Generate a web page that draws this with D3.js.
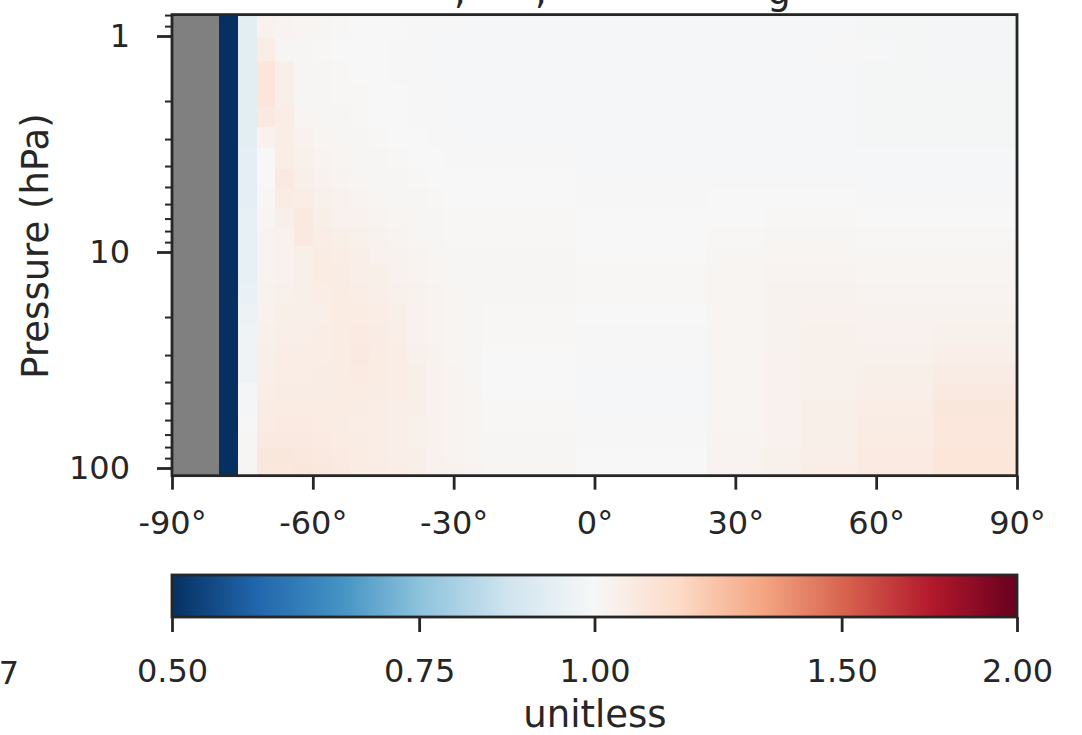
<!DOCTYPE html>
<html><head><meta charset="utf-8">
<script src="https://cdn.jsdelivr.net/npm/d3@7"></script>
<style>
body{margin:0;background:#fff}
text{font-family:"DejaVu Sans",sans-serif;fill:#262626}
</style></head>
<body><svg id="c" width="1082" height="735"></svg>
<script>
// ---------------- data ----------------
const latitudes = [-90,-86,-82,-78,-74,-70,-66,-62,-58,-54,-50,-46,-42,-38,-34,-30,-26,-22,-18,-14,-10,-6,-2,2,6,10,14,18,22,26,30,34,38,42,46,50,54,58,62,66,70,74,78,82,86,90];
const pressureLevels = [0.9,1.15,1.48,1.89,2.37,2.95,3.7,4.6,5.65,6.95,8.5,10.3,12.5,15.4,19.4,24.3,30.1,36.9,43.9,52.2,62.7,74.5,87.5,101];
const xTicks = [-90,-60,-30,0,30,60,90];
const yTicks = [1,10,100];
const cbarTicks = [0.5,0.75,1.0,1.5,2.0];
const cbarTickLabels = ["0.50","0.75","1.00","1.50","2.00"];
const rdbuColors = ["#053061","#2166ac","#4393c3","#92c5de","#d1e5f0","#f7f7f7","#fddbc7","#f4a582","#d6604d","#b2182b","#67001f"];
const N = null;
// ratio (unitless), one row per pressure level (top -> bottom), one value per latitude
const ratio = [
[N,N,N,0.45,0.93, 1.03,1.02,1.015,1.01,1.005,1.0,1.0,1.0,0.995,0.995,0.995,0.993, 0.993,0.993,0.993,0.993,0.993, 0.993,0.993,0.993,0.993,0.993,0.993,0.993, 0.993,0.993,0.993, 0.993,0.993, 0.993,0.993,0.993, 0.99,0.99,0.99,0.99, 0.988,0.988,0.988,0.988,0.99],
[N,N,N,0.45,0.93, 1.05,1.01,1.01,1.005,1.0,1.0,1.0,0.995,0.995,0.993,0.993,0.993, 0.993,0.993,0.993,0.993,0.993, 0.993,0.993,0.993,0.993,0.993,0.993,0.993, 0.993,0.993,0.993, 0.993,0.993, 0.993,0.996,0.996, 0.995,0.993,0.99,0.99, 0.988,0.988,0.988,0.988,0.99],
[N,N,N,0.45,0.93, 1.09,1.04,1.01,1.01,1.005,1.0,1.0,0.995,0.995,0.993,0.993,0.993, 0.993,0.993,0.993,0.993,0.993, 0.993,0.993,0.993,0.993,0.993,0.993,0.993, 0.993,0.993,0.993, 0.993,0.993, 0.993,0.993,0.993, 0.99,0.99,0.99,0.99, 0.988,0.988,0.988,0.988,0.99],
[N,N,N,0.45,0.93, 1.09,1.04,1.01,1.01,1.005,1.005,1.0,1.0,0.995,0.995,0.993,0.993, 0.993,0.993,0.993,0.993,0.993, 0.993,0.993,0.993,0.993,0.993,0.993,0.993, 0.993,0.993,0.993, 0.993,0.993, 0.993,0.993,0.993, 0.99,0.99,0.99,0.99, 0.99,0.99,0.99,0.99,0.99],
[N,N,N,0.45,0.93, 1.07,1.05,1.015,1.01,1.01,1.005,1.0,1.0,0.995,0.995,0.993,0.993, 0.993,0.993,0.993,0.993,0.993, 0.993,0.993,0.993,0.993,0.993,0.993,0.993, 0.993,0.993,0.993, 0.993,0.993, 0.993,0.993,0.993, 0.99,0.99,0.99,0.99, 0.99,0.99,0.99,0.99,0.99],
[N,N,N,0.45,0.93, 1.03,1.05,1.03,1.015,1.01,1.01,1.005,1.0,1.0,0.995,0.995,0.993, 0.993,0.993,0.993,0.993,0.993, 0.993,0.993,0.993,0.993,0.993,0.993,0.993, 0.993,0.993,0.993, 0.993,0.993, 0.993,0.993,0.993, 0.99,0.99,0.99,0.99, 0.99,0.99,0.99,0.99,0.99],
[N,N,N,0.45,0.935, 1.0,1.05,1.035,1.02,1.015,1.01,1.01,1.005,1.0,1.0,0.995,0.995, 0.995,0.995,0.995,0.995,0.995, 0.993,0.993,0.993,0.993,0.993,0.993,0.993, 0.993,0.993,0.993, 0.993,0.993, 0.993,0.993,0.993, 0.993,0.993,0.993,0.993, 0.993,0.993,0.993,0.993,0.993],
[N,N,N,0.45,0.935, 1.0,1.07,1.04,1.03,1.02,1.015,1.01,1.01,1.005,1.0,1.0,1.0, 1.0,1.0,1.0,1.0,1.0, 0.995,0.995,0.995,0.995,0.995,0.995,0.995, 0.995,0.995,0.995, 0.995,0.995, 0.995,0.995,0.995, 0.993,0.993,0.993,0.993, 0.993,0.993,0.993,0.993,0.993],
[N,N,N,0.45,0.935, 1.005,1.06,1.05,1.035,1.03,1.02,1.015,1.01,1.01,1.005,1.0,1.0, 1.0,1.0,1.0,1.0,1.0, 0.995,0.995,0.995,0.995,0.995,0.995,0.995, 1.0,1.0,1.0, 1.0,1.0, 1.0,1.0,1.0, 0.995,0.995,0.995,0.995, 0.995,0.995,0.995,0.995,0.995],
[N,N,N,0.45,0.945, 1.015,1.04,1.07,1.04,1.03,1.03,1.02,1.015,1.01,1.01,1.005,1.005, 1.005,1.005,1.005,1.005,1.005, 1.0,1.0,1.0,1.0,1.0,1.0,1.0, 1.0,1.0,1.0, 1.005,1.005, 1.005,1.005,1.005, 1.0,1.0,1.0,1.0, 1.0,1.0,1.0,1.0,1.0],
[N,N,N,0.45,0.945, 1.02,1.03,1.07,1.05,1.04,1.035,1.025,1.02,1.015,1.01,1.005,1.005, 1.005,1.005,1.005,1.005,1.005, 1.0,1.0,1.0,1.0,1.0,1.0,1.0, 1.005,1.005,1.005, 1.01,1.01, 1.01,1.01,1.01, 1.005,1.005,1.005,1.005, 1.005,1.005,1.005,1.005,1.005],
[N,N,N,0.45,0.945, 1.02,1.03,1.04,1.06,1.05,1.04,1.03,1.025,1.02,1.015,1.01,1.01, 1.01,1.01,1.01,1.01,1.01, 1.0,1.0,1.0,1.0,1.0,1.0,1.0, 1.01,1.01,1.01, 1.015,1.015, 1.015,1.015,1.015, 1.01,1.01,1.01,1.01, 1.01,1.01,1.01,1.01,1.01],
[N,N,N,0.45,0.945, 1.02,1.03,1.04,1.06,1.055,1.045,1.04,1.03,1.02,1.015,1.01,1.01, 1.01,1.01,1.01,1.01,1.01, 1.005,1.005,1.005,1.005,1.005,1.005,1.005, 1.015,1.015,1.015, 1.02,1.02, 1.02,1.02,1.02, 1.015,1.015,1.015,1.015, 1.015,1.015,1.015,1.015,1.015],
[N,N,N,0.45,0.955, 1.025,1.035,1.04,1.05,1.06,1.05,1.045,1.035,1.025,1.02,1.015,1.01, 1.01,1.01,1.01,1.01,1.01, 1.005,1.005,1.005,1.005,1.005,1.005,1.005, 1.015,1.015,1.015, 1.025,1.025, 1.025,1.025,1.025, 1.02,1.02,1.02,1.02, 1.02,1.02,1.02,1.02,1.02],
[N,N,N,0.45,0.965, 1.03,1.04,1.04,1.045,1.06,1.06,1.05,1.04,1.03,1.02,1.015,1.01, 1.005,1.005,1.005,1.005,1.005, 1.0,1.0,1.0,1.0,1.0,1.0,1.0, 1.015,1.015,1.015, 1.025,1.025, 1.03,1.03,1.03, 1.025,1.025,1.025,1.025, 1.025,1.025,1.025,1.025,1.025],
[N,N,N,0.45,0.97, 1.035,1.045,1.045,1.05,1.06,1.065,1.055,1.045,1.03,1.02,1.015,1.01, 1.005,1.005,1.005,1.005,1.005, 0.995,0.995,0.995,0.995,0.995,0.995,0.995, 1.015,1.015,1.015, 1.025,1.025, 1.035,1.035,1.035, 1.03,1.03,1.03,1.03, 1.035,1.035,1.035,1.035,1.035],
[N,N,N,0.45,0.97, 1.04,1.05,1.05,1.05,1.06,1.07,1.06,1.05,1.035,1.025,1.015,1.01, 1.0,1.0,1.0,1.0,1.0, 0.995,0.995,0.995,0.995,0.995,0.995,0.995, 1.015,1.015,1.015, 1.03,1.03, 1.035,1.035,1.035, 1.035,1.035,1.035,1.035, 1.045,1.045,1.045,1.045,1.045],
[N,N,N,0.45,0.97, 1.045,1.05,1.05,1.055,1.06,1.065,1.06,1.05,1.04,1.03,1.02,1.01, 1.0,1.0,1.0,1.0,1.0, 0.993,0.993,0.993,0.993,0.993,0.993,0.993, 1.015,1.015,1.015, 1.03,1.03, 1.035,1.035,1.035, 1.04,1.04,1.04,1.04, 1.055,1.055,1.055,1.055,1.055],
[N,N,N,0.45,0.985, 1.05,1.055,1.055,1.055,1.06,1.06,1.055,1.05,1.04,1.03,1.02,1.015, 1.0,1.0,1.0,1.0,1.0, 0.993,0.993,0.993,0.993,0.993,0.993,0.993, 1.015,1.015,1.015, 1.03,1.03, 1.035,1.035,1.035, 1.045,1.045,1.045,1.045, 1.07,1.07,1.07,1.07,1.07],
[N,N,N,0.45,0.985, 1.055,1.06,1.06,1.06,1.06,1.055,1.05,1.045,1.04,1.03,1.02,1.015, 1.005,1.005,1.005,1.005,1.005, 0.993,0.993,0.993,0.993,0.993,0.993,0.993, 1.015,1.015,1.015, 1.03,1.03, 1.04,1.04,1.04, 1.05,1.05,1.05,1.05, 1.08,1.08,1.08,1.08,1.08],
[N,N,N,0.45,0.995, 1.06,1.065,1.065,1.06,1.055,1.05,1.05,1.045,1.035,1.03,1.02,1.015, 1.005,1.005,1.005,1.005,1.005, 0.995,0.995,0.995,0.995,0.995,0.995,0.995, 1.015,1.015,1.015, 1.03,1.03, 1.04,1.04,1.04, 1.055,1.055,1.055,1.055, 1.085,1.085,1.085,1.085,1.085],
[N,N,N,0.45,1.01, 1.07,1.07,1.07,1.065,1.06,1.055,1.05,1.045,1.035,1.03,1.02,1.015, 1.01,1.01,1.01,1.01,1.01, 0.995,0.995,0.995,0.995,0.995,0.995,0.995, 1.02,1.02,1.02, 1.03,1.03, 1.04,1.04,1.04, 1.06,1.06,1.06,1.06, 1.085,1.085,1.085,1.085,1.085],
[N,N,N,0.45,1.01, 1.08,1.08,1.075,1.07,1.065,1.06,1.05,1.045,1.04,1.03,1.02,1.015, 1.01,1.01,1.01,1.01,1.01, 1.0,1.0,1.0,1.0,1.0,1.0,1.0, 1.02,1.02,1.02, 1.035,1.035, 1.045,1.045,1.045, 1.065,1.065,1.065,1.065, 1.09,1.09,1.09,1.09,1.09],
[N,N,N,0.45,1.01, 1.085,1.085,1.08,1.075,1.07,1.06,1.055,1.05,1.04,1.03,1.025,1.02, 1.015,1.015,1.015,1.015,1.015, 1.0,1.0,1.0,1.0,1.0,1.0,1.0, 1.02,1.02,1.02, 1.035,1.035, 1.05,1.05,1.05, 1.065,1.065,1.065,1.065, 1.09,1.09,1.09,1.09,1.09]
];

// ---------------- layout ----------------
const svg = d3.select("#c");
const ink = "#262626";
const x = d3.scaleLinear().domain([-90, 90]).range([172, 1017]);
const y = d3.scaleLog().domain([1, 100]).range([36, 468]);

// cell edges (geometric midpoints in pressure, midpoints in latitude)
const pEdges = [];
pEdges.push(pressureLevels[0] * pressureLevels[0] / Math.sqrt(pressureLevels[0] * pressureLevels[1]));
for (let i = 0; i < pressureLevels.length - 1; i++) pEdges.push(Math.sqrt(pressureLevels[i] * pressureLevels[i + 1]));
const nP = pressureLevels.length;
pEdges.push(pressureLevels[nP - 1] * pressureLevels[nP - 1] / Math.sqrt(pressureLevels[nP - 1] * pressureLevels[nP - 2]));
const latEdges = [-90];
for (let i = 0; i < latitudes.length - 1; i++) latEdges.push((latitudes[i] + latitudes[i + 1]) / 2);
latEdges.push(90);

const cmap = d3.scaleLinear().domain(d3.range(11).map(i => i / 10)).range(rdbuColors).interpolate(d3.interpolateRgb).clamp(true);
const norm = d3.scaleLog().domain([0.5, 2]).range([0, 1]).clamp(true);

const plotTop = y(pEdges[0]), plotBot = y(pEdges[pEdges.length - 1]);

// NaN background
svg.append("rect").attr("x", x(-90)).attr("y", plotTop).attr("width", x(90) - x(-90)).attr("height", plotBot - plotTop).attr("fill", "#808080");

const cells = [];
ratio.forEach((row, i) => row.forEach((v, j) => { if (v !== null) cells.push({ i, j, v }); }));
svg.append("g").selectAll("rect").data(cells).join("rect")
  .attr("x", d => x(latEdges[d.j]))
  .attr("width", d => x(latEdges[d.j + 1]) - x(latEdges[d.j]) + 0.4)
  .attr("y", d => y(pEdges[d.i]))
  .attr("height", d => y(pEdges[d.i + 1]) - y(pEdges[d.i]) + 0.4)
  .attr("fill", d => cmap(norm(d.v)))
  .attr("shape-rendering", "crispEdges");

// frame
svg.append("rect").attr("x", x(-90)).attr("y", plotTop).attr("width", x(90) - x(-90)).attr("height", plotBot - plotTop)
  .attr("fill", "none").attr("stroke", ink).attr("stroke-width", 2.8);

// x axis
const gx = svg.append("g").attr("transform", `translate(0,${plotBot})`)
  .call(d3.axisBottom(x).tickValues(xTicks).tickSize(14).tickPadding(22).tickFormat(d => d + "°"));
gx.select(".domain").remove();
gx.selectAll("line").attr("stroke", ink).attr("stroke-width", 2.8);
gx.selectAll("text").attr("font-size", 32).attr("fill", ink).attr("font-family", "DejaVu Sans");

// y axis (major)
const gy = svg.append("g").attr("transform", `translate(${x(-90)},0)`)
  .call(d3.axisLeft(y).tickValues(yTicks).tickSize(15).tickPadding(27).tickFormat(d3.format("d")));
gy.select(".domain").remove();
gy.selectAll("line").attr("stroke", ink).attr("stroke-width", 2.8);
gy.selectAll("text").attr("font-size", 32).attr("fill", ink).attr("font-family", "DejaVu Sans");
// y minor ticks
const minor = [0.8, 0.9, 2, 3, 4, 5, 6, 7, 8, 9, 20, 30, 40, 50, 60, 70, 80, 90];
svg.append("g").attr("transform", `translate(${x(-90)},0)`)
  .call(d3.axisLeft(y).tickValues(minor).tickSize(7).tickFormat(""))
  .call(g => g.select(".domain").remove())
  .call(g => g.selectAll("line").attr("stroke", ink).attr("stroke-width", 2));

svg.append("text").attr("transform", `translate(48,246) rotate(-90)`).attr("text-anchor", "middle")
  .attr("font-size", 37).text("Pressure (hPa)");

// title fragments (the title sits above the picture's top edge, as in the reference)
[[460, ","], [541, ","], [779, "g"]].forEach(([tx, t]) =>
  svg.append("text").attr("x", tx).attr("y", 3.5).attr("text-anchor", "middle").attr("font-size", 37).text(t));

// ---------------- colorbar ----------------
const cx = d3.scaleLog().domain([0.5, 2]).range([172, 1017]);
const cbTop = 575, cbBot = 617;
const grad = svg.append("defs").append("linearGradient").attr("id", "cb").attr("x1", "0").attr("x2", "1").attr("y1", "0").attr("y2", "0");
rdbuColors.forEach((c, i) => grad.append("stop").attr("offset", i / 10).attr("stop-color", c));
svg.append("rect").attr("x", cx(0.5)).attr("y", cbTop).attr("width", cx(2) - cx(0.5)).attr("height", cbBot - cbTop).attr("fill", "url(#cb)");
svg.append("rect").attr("x", cx(0.5)).attr("y", cbTop).attr("width", cx(2) - cx(0.5)).attr("height", cbBot - cbTop)
  .attr("fill", "none").attr("stroke", ink).attr("stroke-width", 2.8);
const gc = svg.append("g").attr("transform", `translate(0,${cbBot})`)
  .call(d3.axisBottom(cx).tickValues(cbarTicks).tickSize(15).tickPadding(27).tickFormat((d, i) => cbarTickLabels[i]));
gc.select(".domain").remove();
gc.selectAll("line").attr("stroke", ink).attr("stroke-width", 2.8);
gc.selectAll("text").attr("font-size", 32).attr("fill", ink).attr("font-family", "DejaVu Sans");
svg.append("text").attr("x", 19).attr("y", 684).attr("text-anchor", "end").attr("font-size", 32).text("7");
svg.append("text").attr("x", 595).attr("y", 727).attr("text-anchor", "middle").attr("font-size", 37).text("unitless");
</script></body></html>
